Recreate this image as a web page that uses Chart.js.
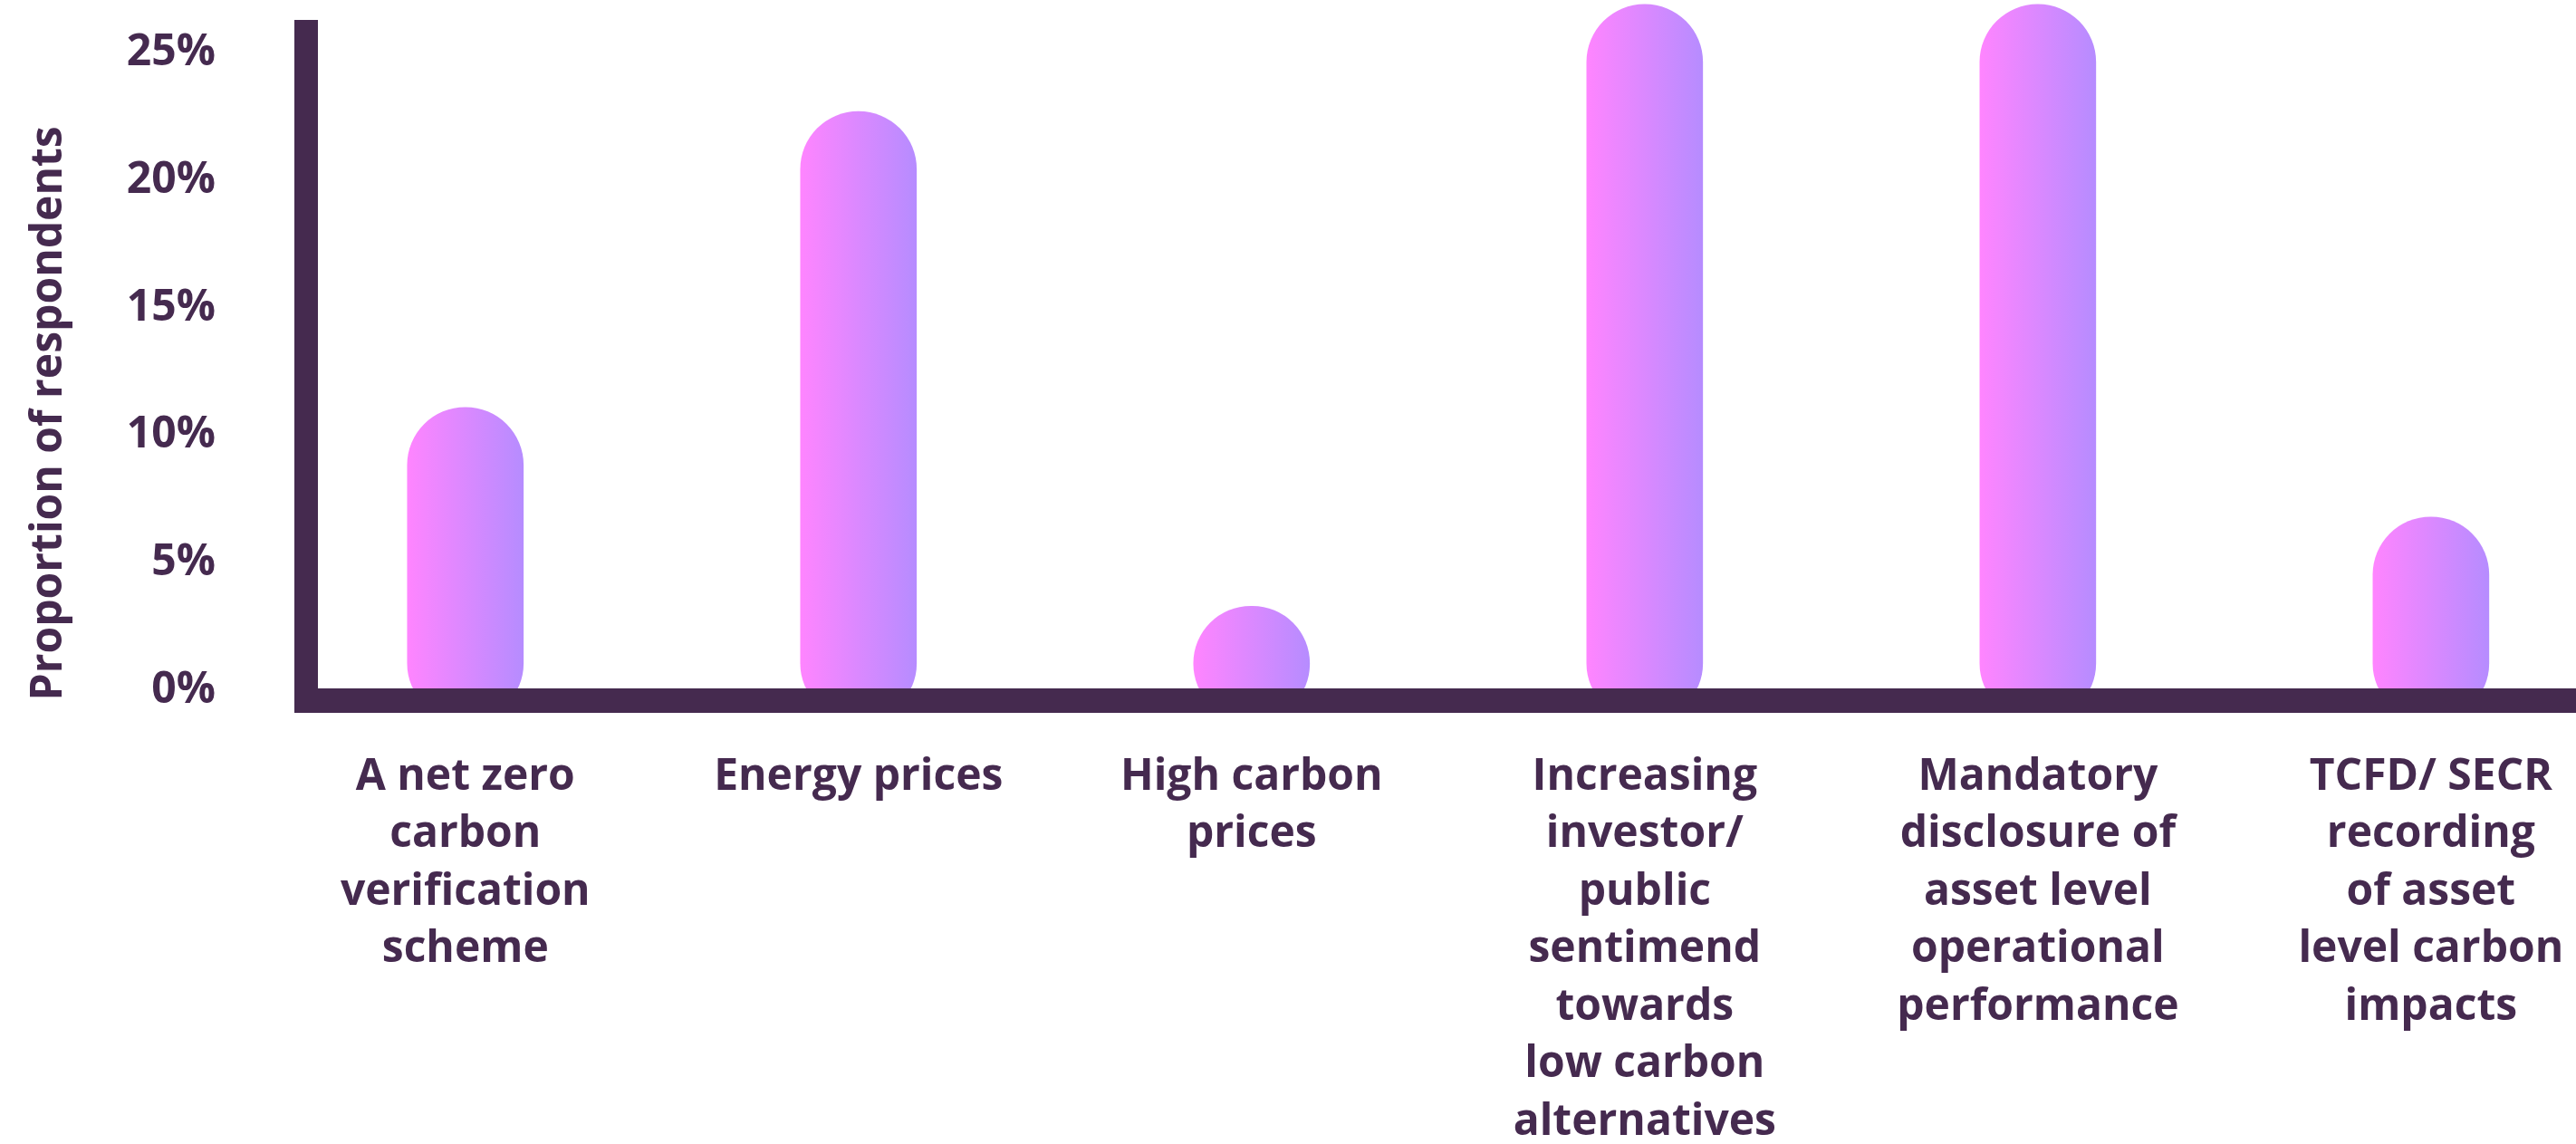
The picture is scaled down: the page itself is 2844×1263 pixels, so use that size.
<!DOCTYPE html>
<html>
<head>
<meta charset="utf-8">
<script src="https://cdn.jsdelivr.net/npm/chart.js@4.4.1/dist/chart.umd.min.js"></script>
<style>
  html, body { margin: 0; padding: 0; background: #fff; overflow: hidden; }
  #wrap { width: 2844px; height: 1263px; position: relative; }
</style>
</head>
<body>
<div id="wrap"><canvas id="driversChart"></canvas></div>
<script>
// categories (multi-line labels as in the source graphic)
const categories = [
  ["A net zero", "carbon", "verification", "scheme"],
  ["Energy prices"],
  ["High carbon", "prices"],
  ["Increasing", "investor/", "public", "sentimend", "towards", "low carbon", "alternatives"],
  ["Mandatory", "disclosure of", "asset level", "operational", "performance"],
  ["TCFD/ SECR", "recording", "of asset", "level carbon", "impacts"]
];
// share of respondents, %
const shares = [11.1, 22.7, 3.3, 26.9, 26.9, 6.8];
// y axis ticks, %
const yTicks = [0, 5, 10, 15, 20, 25];

const ink = "#452a4f";
const pinkStop = "#ff85ff";
const lilacStop = "#b68cff";
const barWidth = 128;

function barFill(c) {
  const xs = c.chart.scales.x;
  if (!xs || !c.parsed) return lilacStop;
  const cx = xs.getPixelForValue(c.parsed.x);
  if (!isFinite(cx)) return lilacStop;
  const g = c.chart.ctx.createLinearGradient(cx - barWidth / 2, 0, cx + barWidth / 2, 0);
  g.addColorStop(0, pinkStop);
  g.addColorStop(1, lilacStop);
  return g;
}

const ctx = document.getElementById("driversChart").getContext("2d");
new Chart(ctx, {
  type: "bar",
  data: {
    datasets: [{
      label: "Proportion of respondents",
      data: shares.map((v, i) => ({ x: i, y: v })),
      backgroundColor: barFill,
      borderWidth: 0,
      borderSkipped: false,
      borderRadius: barWidth / 2,
      barThickness: barWidth,
      base: -1.2,
      clip: { left: false, right: false, top: false, bottom: 0 }
    }]
  },
  options: {
    responsive: true,
    maintainAspectRatio: false,
    animation: false,
    devicePixelRatio: 1,
    layout: { autoPadding: false, padding: { top: 35, left: 0, right: 0, bottom: 0 } },
    plugins: {
      legend: { display: false },
      tooltip: { enabled: false }
    },
    scales: {
      x: {
        type: "linear",
        offset: false,
        min: -0.405,
        max: 5.369,
        grid: { display: false, drawTicks: false, offset: false },
        border: { display: true, color: ink, width: 27, z: 1 },
        afterBuildTicks: s => { s.ticks = categories.map((_, i) => ({ value: i })); },
        afterFit: s => { s.height = 489.5; s.paddingLeft = 0; s.paddingRight = 0; },
        ticks: {
          autoSkip: false,
          maxRotation: 0,
          minRotation: 0,
          padding: 53,
          color: ink,
          font: { family: "'Open Sans', sans-serif", size: 48, weight: "700", lineHeight: 1.323 },
          callback: v => categories[v]
        }
      },
      y: {
        min: -0.4,
        max: 25.83,
        grid: { display: false, drawTicks: false },
        border: { display: true, color: ink, width: 26, z: 1 },
        afterBuildTicks: s => { s.ticks = yTicks.map(v => ({ value: v })); },
        afterFit: s => { s.width = 338; s.paddingTop = 0; s.paddingBottom = 0; },
        title: {
          display: true,
          text: "Proportion of respondents",
          align: "start",
          color: ink,
          padding: { top: 26, bottom: 0 },
          font: { family: "'Open Sans', sans-serif", size: 48, weight: "700" }
        },
        ticks: {
          padding: 100,
          color: ink,
          font: { family: "'Open Sans', sans-serif", size: 48, weight: "700" },
          callback: v => v + "%"
        }
      }
    }
  }
});
</script>
</body>
</html>
